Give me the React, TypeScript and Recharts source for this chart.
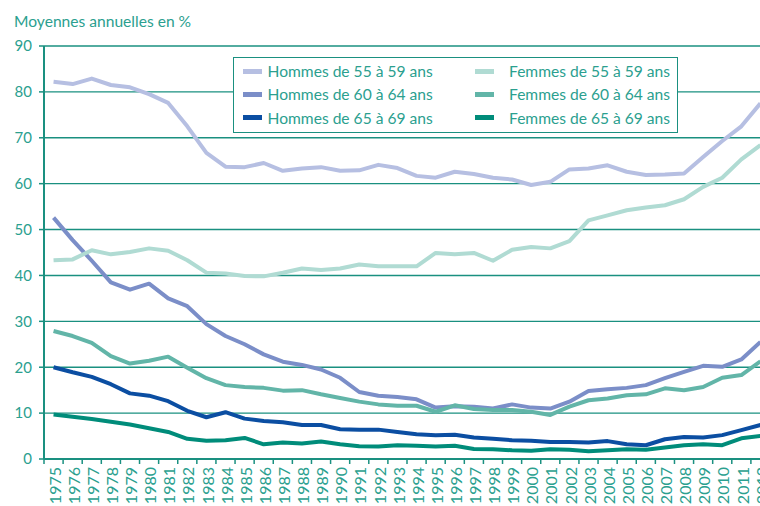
import React from 'react';
import { LineChart, Line, XAxis, YAxis, CartesianGrid, Legend } from 'recharts';

const years = [
  '1975', '1976', '1977', '1978', '1979', '1980', '1981', '1982', '1983', '1984',
  '1985', '1986', '1987', '1988', '1989', '1990', '1991', '1992', '1993', '1994',
  '1995', '1996', '1997', '1998', '1999', '2000', '2001', '2002', '2003', '2004',
  '2005', '2006', '2007', '2008', '2009', '2010', '2011', '2012',
];

const hommes5559 = [
  82.2, 81.7, 82.9, 81.5, 81.0, 79.5, 77.6, 72.5, 66.7, 63.7,
  63.6, 64.5, 62.8, 63.3, 63.6, 62.8, 62.9, 64.1, 63.4, 61.7,
  61.3, 62.6, 62.1, 61.3, 60.9, 59.7, 60.4, 63.1, 63.3, 64.0,
  62.6, 61.9, 62.0, 62.2, 65.8, 69.3, 72.5, 77.5,
];
const hommes6064 = [
  52.6, 47.7, 43.2, 38.5, 36.9, 38.2, 35.0, 33.3, 29.4, 26.8,
  25.0, 22.8, 21.2, 20.5, 19.5, 17.7, 14.6, 13.8, 13.5, 13.0,
  11.2, 11.5, 11.4, 11.0, 11.9, 11.2, 11.0, 12.5, 14.8, 15.2,
  15.5, 16.1, 17.6, 19.0, 20.3, 20.1, 21.7, 25.5,
];
const hommes6569 = [
  20.0, 18.9, 17.9, 16.3, 14.3, 13.8, 12.6, 10.5, 9.1, 10.2,
  8.8, 8.3, 8.0, 7.4, 7.4, 6.5, 6.4, 6.4, 5.9, 5.4,
  5.2, 5.3, 4.7, 4.4, 4.1, 4.0, 3.7, 3.7, 3.6, 3.9,
  3.2, 3.0, 4.3, 4.8, 4.7, 5.2, 6.3, 7.4,
];
const femmes5559 = [
  43.3, 43.5, 45.5, 44.6, 45.1, 45.9, 45.4, 43.3, 40.6, 40.4,
  39.9, 39.8, 40.6, 41.5, 41.2, 41.5, 42.4, 42.0, 42.0, 42.0,
  44.9, 44.6, 44.9, 43.2, 45.6, 46.2, 45.9, 47.5, 52.0, 53.1,
  54.2, 54.8, 55.3, 56.6, 59.3, 61.3, 65.3, 68.4,
];
const femmes6064 = [
  27.9, 26.8, 25.3, 22.4, 20.8, 21.4, 22.3, 19.9, 17.6, 16.1,
  15.7, 15.5, 14.9, 15.0, 14.1, 13.3, 12.5, 11.9, 11.6, 11.6,
  10.3, 11.7, 10.9, 10.7, 10.7, 10.3, 9.6, 11.4, 12.8, 13.2,
  13.9, 14.1, 15.4, 15.0, 15.7, 17.7, 18.3, 21.3,
];
const femmes6569 = [
  9.7, 9.2, 8.7, 8.1, 7.5, 6.7, 5.9, 4.4, 4.0, 4.1,
  4.6, 3.2, 3.6, 3.4, 3.8, 3.2, 2.8, 2.7, 3.0, 2.9,
  2.7, 2.9, 2.2, 2.1, 1.9, 1.8, 2.1, 2.0, 1.7, 1.9,
  2.1, 2.0, 2.5, 3.0, 3.2, 3.0, 4.5, 5.0,
];

const yTicks = [0, 10, 20, 30, 40, 50, 60, 70, 80, 90];
const titleText = 'Moyennes annuelles en %';

const series = [
  { key: 'h5559', name: 'Hommes de 55 à 59 ans', color: '#b6bfe2', values: hommes5559 },
  { key: 'h6064', name: 'Hommes de 60 à 64 ans', color: '#7b8ec8', values: hommes6064 },
  { key: 'h6569', name: 'Hommes de 65 à 69 ans', color: '#0b4ea2', values: hommes6569 },
  { key: 'f5559', name: 'Femmes de 55 à 59 ans', color: '#b0dbd3', values: femmes5559 },
  { key: 'f6064', name: 'Femmes de 60 à 64 ans', color: '#62b5a8', values: femmes6064 },
  { key: 'f6569', name: 'Femmes de 65 à 69 ans', color: '#008c7a', values: femmes6569 },
];

const data = years.map((year, i) => {
  const row: Record<string, string | number> = { year };
  series.forEach((s) => {
    row[s.key] = s.values[i];
  });
  return row;
});

const FONT = 'Lato, "Open Sans", sans-serif';
const TEXT = '#2ba08f';
const AXIS = '#1a9080';

const CHART_W = 800;
const CHART_H = 506;
const MARGIN = { top: 46, right: 30, bottom: 0, left: 0 };
const Y_W = 44;
const X_H = 47;
const PLOT_W = CHART_W - MARGIN.left - MARGIN.right - Y_W;
const BAND = PLOT_W / years.length;

function XTick(props: any) {
  const { x, y, payload } = props;
  return (
    <g>
      <line x1={x - BAND / 2} x2={x - BAND / 2} y1={y} y2={y + 5} stroke={AXIS} strokeWidth={1.5} />
      <text
        transform={`translate(${x},${y + 8}) rotate(-90)`}
        textAnchor="end"
        dy="0.45em"
        fill={TEXT}
        fontSize={16}
        fontFamily={FONT}
      >
        {payload.value}
      </text>
    </g>
  );
}

function LegendBox() {
  return (
    <div
      style={{
        width: 445,
        height: 76,
        boxSizing: 'border-box',
        border: `1.5px solid ${AXIS}`,
        background: '#ffffff',
        position: 'relative',
        fontFamily: FONT,
        fontSize: 15.6,
        color: TEXT,
      }}
    >
      {series.map((s, i) => {
        const col = i < 3 ? 0 : 1;
        const row = i % 3;
        const swatchLeft = col === 0 ? 9 : 241;
        const textLeft = col === 0 ? 33.5 : 275;
        const cy = 13 + row * 23.3;
        return (
          <React.Fragment key={s.key}>
            <div
              style={{
                position: 'absolute',
                left: swatchLeft,
                top: cy - 2.5,
                width: 19,
                height: 5,
                background: s.color,
              }}
            />
            <div
              style={{
                position: 'absolute',
                left: textLeft,
                top: cy - 9,
                lineHeight: '18px',
                whiteSpace: 'nowrap',
              }}
            >
              {s.name}
            </div>
          </React.Fragment>
        );
      })}
    </div>
  );
}

export default function App() {
  return (
    <div
      style={{
        position: 'fixed',
        left: 0,
        top: 0,
        width: 760,
        height: 506,
        overflow: 'hidden',
        background: '#ffffff',
      }}
    >
      <div
        style={{
          position: 'absolute',
          left: 14,
          top: 13.5,
          fontFamily: FONT,
          fontSize: 15.6,
          lineHeight: '15.6px',
          color: TEXT,
          whiteSpace: 'nowrap',
          zIndex: 2,
        }}
      >
        {titleText}
      </div>
      <LineChart width={CHART_W} height={CHART_H} data={data} margin={MARGIN}>
        <CartesianGrid vertical={false} stroke={AXIS} strokeWidth={1.4} />
        <XAxis
          dataKey="year"
          scale="band"
          interval={0}
          height={X_H}
          tickSize={0}
          tickMargin={0}
          tickLine={false}
          axisLine={{ stroke: AXIS, strokeWidth: 2 }}
          tick={<XTick />}
        />
        <YAxis
          width={Y_W}
          domain={[0, 90]}
          ticks={yTicks}
          interval={0}
          tickSize={5}
          tickMargin={7}
          axisLine={{ stroke: AXIS, strokeWidth: 2 }}
          tickLine={{ stroke: AXIS, strokeWidth: 1.5 }}
          tick={{ fill: TEXT, fontSize: 15, fontFamily: FONT }}
        />
        <Legend
          layout="horizontal"
          verticalAlign="middle"
          align="center"
          wrapperStyle={{ left: 233, top: 57, width: 445, height: 76 }}
          content={() => <LegendBox />}
        />
        {series.map((s) => (
          <Line
            key={s.key}
            type="linear"
            dataKey={s.key}
            name={s.name}
            stroke={s.color}
            strokeWidth={4}
            strokeLinejoin="round"
            dot={false}
            activeDot={false}
            isAnimationActive={false}
          />
        ))}
      </LineChart>
    </div>
  );
}
